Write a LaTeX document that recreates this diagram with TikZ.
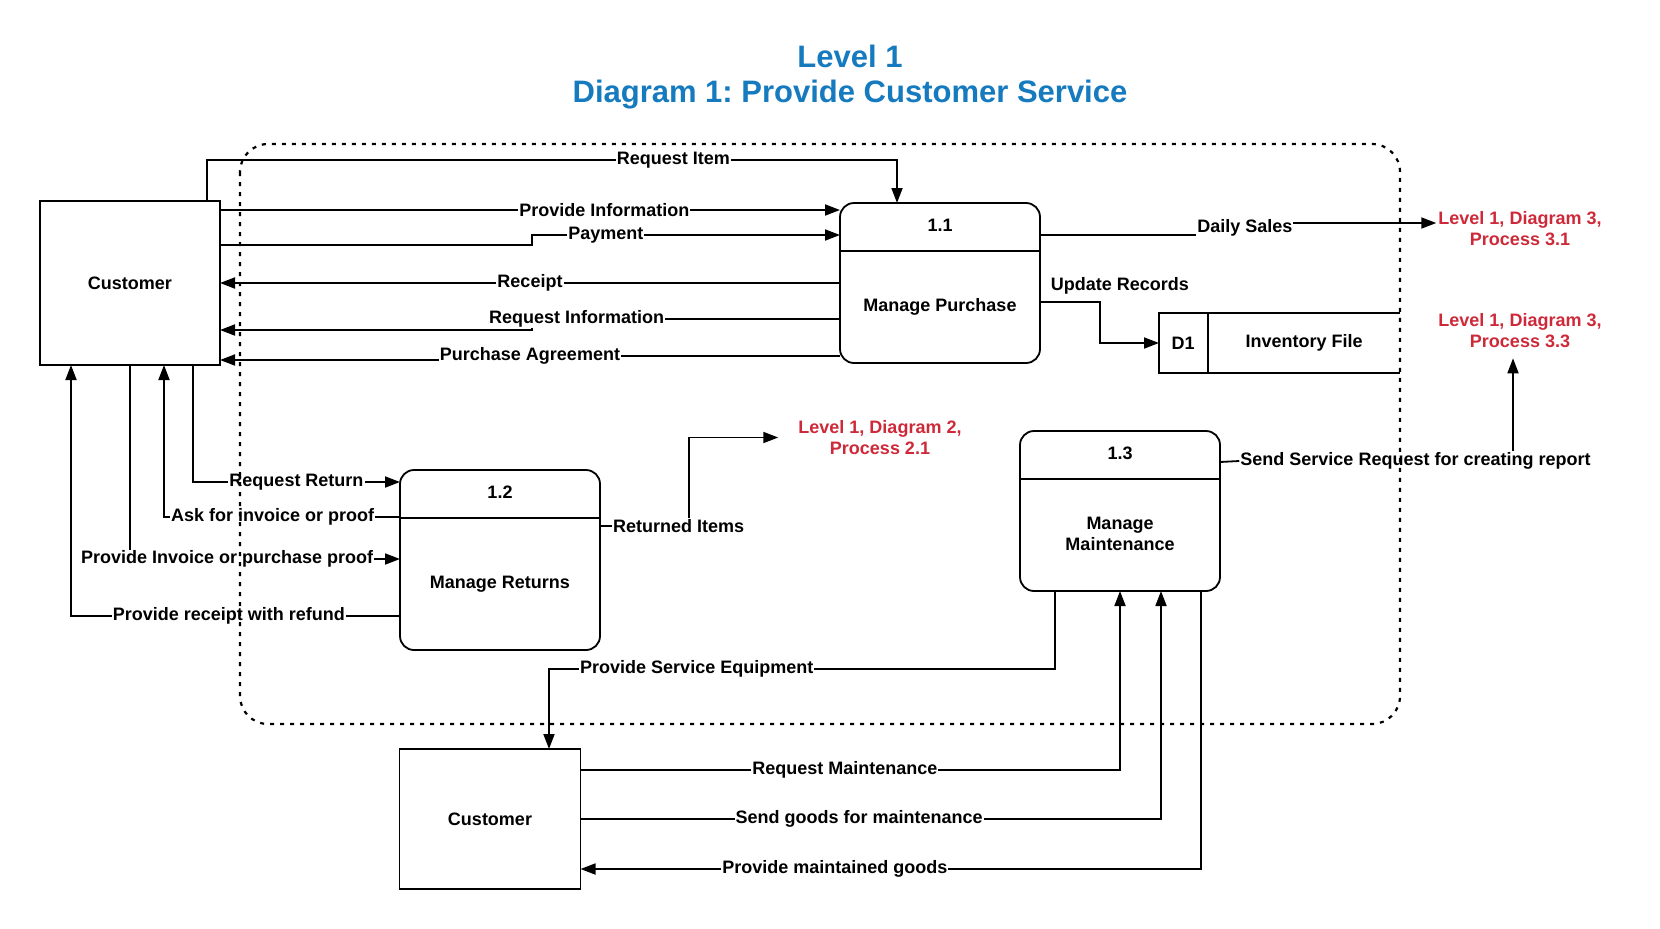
\documentclass[tikz,border=0pt]{standalone}
\usepackage{fontspec}
\setmainfont{Liberation Sans}
\usetikzlibrary{arrows.meta}
\frenchspacing

\definecolor{titleblue}{RGB}{22,122,191}
\definecolor{linkred}{RGB}{206,41,57}

\begin{document}
\begin{tikzpicture}[x=1pt,y=-1pt,
  font=\fontsize{18}{21}\selectfont\bfseries,
  wire/.style={draw, line width=1.8pt},
  flow/.style={wire, -{Triangle[length=15pt,width=11pt]}},
  lbl/.style={fill=white, inner sep=1pt},
  entity/.style={draw, line width=1.8pt, outer sep=0pt, minimum width=180},
  process/.style={draw, line width=1.8pt, outer sep=0pt, rounded corners=14,
    minimum width=200},
  link/.style={text=linkred, align=center, inner sep=2pt},
  title/.style={text=titleblue, font=\fontsize{31}{36}\selectfont\bfseries},
  boundary/.style={line width=2.2pt, dash pattern=on 4pt off 6pt, rounded corners=28}]

  \useasboundingbox (0,0) rectangle (1660,929);

  \node[title] (title1) at (850,56) {Level 1};
  \node[title] (title2) at (850,95) {Diagram 1: Provide Customer Service};

  % external entities
  \node[entity, minimum height=164] (cust1) at (130,283) {Customer};
  \node[entity, minimum height=140, minimum width=181] (cust2) at (490,819) {Customer};

  % processes
  \foreach \nm/\num/\pos/\ht/\dy/\txt in {p11/1.1/{940,283}/160/30.5/Manage Purchase,
      p12/1.2/{500,560}/180/30.5/Manage Returns,
      p13/1.3/{1120,511}/160/40/{Manage\\Maintenance}} {
    \node[process, minimum height=\ht] (\nm) at (\pos) {};
    \draw[line width=1.8pt] ([yshift=-48]\nm.north west) -- ([yshift=-48]\nm.north east);
    \node (\nm num) at ([yshift=-28.5]\nm.north) {\num};
    \node[align=center] (\nm txt) at ([yshift=-\dy]\nm.center) {\txt};
  }

  % data store
  \node[minimum width=241, minimum height=60, inner sep=0pt, outer sep=0pt] (store) at (1279.5,343) {};
  \draw[line width=1.8pt] (store.north east) -- (store.north west) -- (store.south west) -- (store.south east);
  \draw[line width=1.8pt] ([xshift=49]store.north west) -- ([xshift=49]store.south west);
  \node (d1) at ([xshift=24]store.west) {D1};
  \node (invfile) at ([xshift=24.5]store.center) {Inventory File};

  % other diagrams
  \node[link] (red31) at (1520,229) {Level 1, Diagram 3,\\Process 3.1};
  \node[link] (red33) at (1520,331) {Level 1, Diagram 3,\\Process 3.3};
  \node[link] (red21) at (880,437.5) {Level 1, Diagram 2,\\Process 2.1};
  \coordinate (sendtip) at ([xshift=-7,yshift=-8]red33.south);

  % customer <-> manage purchase
  \draw[flow] ([xshift=-13]cust1.north east) |- node[lbl, pos=0.838] (lreqitem) {Request Item}
    ([xshift=-43,yshift=43]p11.north) -- ([xshift=-43]p11.north);
  \draw[flow] ([yshift=73]cust1.east) -- node[lbl, pos=0.62] (lprovinfo) {Provide Information} ([yshift=73]p11.west);
  \draw[flow] ([yshift=38]cust1.east) -- ++(312,0) |- node[lbl, pos=0.62] (lpay) {Payment} ([yshift=48]p11.west);
  \draw[flow] (p11.west) -- node[lbl] (lreceipt) {Receipt} (cust1.east);
  \draw[flow] ([yshift=-36]p11.west) -- node[lbl, pos=0.855] (lreqinfo) {Request Information}
    ++(-308,0) |- ([yshift=-47]cust1.east);
  \draw[flow] ([yshift=-73]p11.west) -- node[lbl, pos=1] (lagree) {Purchase Agreement}
    ++(-310,0) |- ([yshift=-77]cust1.east);

  % manage purchase -> outside
  \draw[flow] ([yshift=48]p11.east) -- ++(160,0) |- node[lbl, pos=0.595, yshift=-5pt] (ldaily) {Daily Sales}
    ([yshift=6]red31.west);
  \draw[flow] ([yshift=-19]p11.east) -- ++(60,0) |- (store.west);
  \node (updrec) at ([xshift=80,yshift=-3]p11.east) {Update Records};

  % customer <-> manage returns
  \draw[flow] ([xshift=-27]cust1.south east) |- node[lbl, pos=0.75] (lreqret) {Request Return} ([yshift=78]p12.west);
  \draw[flow] ([yshift=43]p12.west) -| node[lbl, pos=0.27] (lask) {Ask for invoice or proof}
    ([xshift=-56]cust1.south east);
  \draw[flow] (cust1.south) |- node[lbl, pos=0.68] (lprovinv) {Provide Invoice or purchase proof} ([yshift=1]p12.west);
  \draw[flow] ([yshift=-56]p12.west) -| node[lbl, pos=0.26] (lrefund) {Provide receipt with refund}
    ([xshift=31]cust1.south west);
  \draw[flow] ([yshift=34]p12.east) -| node[lbl, pos=0.44] (lreturned) {Returned Items}
    ([xshift=-107]red21.west) -- ([xshift=-18]red21.west);

  % manage maintenance
  \node[lbl] (lsend) at (1415.5,461) {Send Service Request for creating report};
  \draw[wire] ([yshift=49]p13.east) -- (lsend.west);
  \draw[flow] (lsend.north -| sendtip) -- (sendtip);
  \draw[flow] ([xshift=-65]p13.south) -- ++(0,78) -| node[lbl, pos=0.354] (lequip) {Provide Service Equipment}
    ([xshift=59]cust2.north);
  \draw[flow] ([yshift=49]cust2.east) -| node[lbl, pos=0.245] (lreqmaint) {Request Maintenance} (p13.south);
  \draw[flow] (cust2.east) -| node[lbl, pos=0.24] (lgoods) {Send goods for maintenance} ([xshift=41]p13.south);
  \draw[flow] ([xshift=81]p13.south) |- node[lbl, pos=0.795] (lmaint) {Provide maintained goods}
    ([yshift=-50]cust2.east);

  % system boundary
  \draw[boundary] (240,144) rectangle (1400,724);
\end{tikzpicture}
\end{document}
